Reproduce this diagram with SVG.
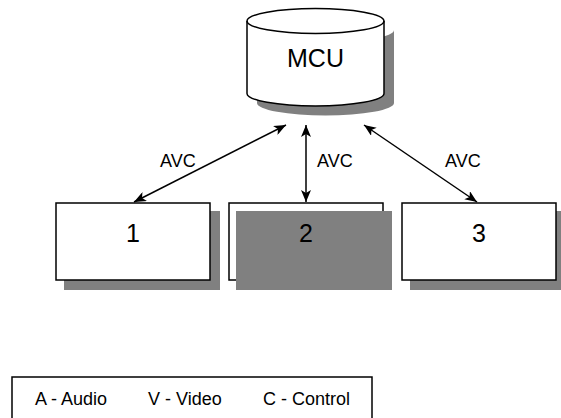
<svg xmlns="http://www.w3.org/2000/svg" width="561" height="418" viewBox="0 0 561 418">
<style>
.box{fill:#fff;stroke:#000;stroke-width:1.5}
.shadow{fill:#808080;stroke:none}
.lbl{font-family:"Liberation Sans",Arial,sans-serif;fill:#000}
.conn{stroke:#000;stroke-width:1.5;fill:none;marker-start:url(#ah);marker-end:url(#ah)}
</style>
<defs>
<marker id="ah" viewBox="0 0 12 10" refX="12" refY="5" markerWidth="12" markerHeight="10" orient="auto-start-reverse" markerUnits="userSpaceOnUse">
<path d="M0,0 L12,5 L0,10 L3,5 z" fill="#000"/>
</marker>
</defs>
<rect width="561" height="418" fill="#fff"/>
<g id="mcu">
<path class="shadow" d="M257,30 A68.5,12.5 0 0 0 394,30 L394,103 A68.5,12.5 0 0 1 257,103 Z"/>
<path class="box" d="M247,21 A68.5,12.5 0 0 1 384,21 L384,93.5 A68.5,12.5 0 0 1 247,93.5 Z"/>
<path d="M247,21 A68.5,12.5 0 0 0 384,21" fill="none" stroke="#000" stroke-width="1.5"/>
<text class="lbl" x="315.5" y="67" font-size="25" text-anchor="middle">MCU</text>
</g>
<g id="node1">
<rect class="shadow" x="64" y="211" width="156" height="79"/>
<rect class="box" x="56" y="203" width="154" height="77"/>
<text class="lbl" x="133" y="242" font-size="25" text-anchor="middle">1</text>
</g>
<g id="node2">
<rect class="box" x="229" y="203" width="154" height="77"/>
<rect class="shadow" x="236" y="211" width="156" height="79"/>
<text class="lbl" x="306" y="242" font-size="25" text-anchor="middle">2</text>
</g>
<g id="node3">
<rect class="shadow" x="410" y="211" width="156" height="79"/>
<rect class="box" x="402" y="203" width="154" height="77"/>
<text class="lbl" x="479" y="242" font-size="25" text-anchor="middle">3</text>
</g>
<g id="connectors">
<line class="conn" x1="286" y1="125" x2="134" y2="202"/>
<line class="conn" x1="306" y1="125" x2="306" y2="202"/>
<line class="conn" x1="364" y1="125" x2="477" y2="202"/>
<text class="lbl" x="160" y="167" font-size="18">AVC</text>
<text class="lbl" x="317" y="167" font-size="18">AVC</text>
<text class="lbl" x="445" y="167" font-size="18">AVC</text>
</g>
<g id="legend">
<rect x="12" y="377" width="360" height="50" fill="#fff" stroke="#000" stroke-width="1.5"/>
<text class="lbl" x="35" y="405" font-size="18">A - Audio</text>
<text class="lbl" x="148" y="405" font-size="18">V - Video</text>
<text class="lbl" x="263" y="405" font-size="18">C - Control</text>
</g>
</svg>
